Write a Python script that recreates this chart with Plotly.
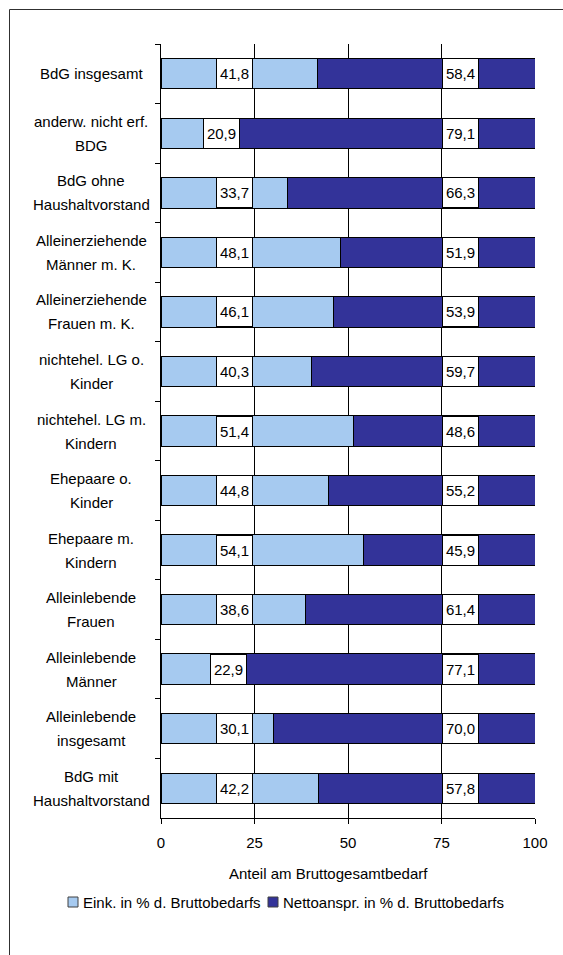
import plotly.graph_objects as go

# Haushaltstypen (top to bottom) and their shares of the gross total need
categories = [
    "BdG insgesamt",
    "anderw. nicht erf.\nBDG",
    "BdG ohne\nHaushaltvorstand",
    "Alleinerziehende\nMänner m. K.",
    "Alleinerziehende\nFrauen m. K.",
    "nichtehel. LG o.\nKinder",
    "nichtehel. LG m.\nKindern",
    "Ehepaare o.\nKinder",
    "Ehepaare m.\nKindern",
    "Alleinlebende\nFrauen",
    "Alleinlebende\nMänner",
    "Alleinlebende\ninsgesamt",
    "BdG mit\nHaushaltvorstand",
]
eink = [41.8, 20.9, 33.7, 48.1, 46.1, 40.3, 51.4, 44.8, 54.1, 38.6, 22.9, 30.1, 42.2]
netto = [58.4, 79.1, 66.3, 51.9, 53.9, 59.7, 48.6, 55.2, 45.9, 61.4, 77.1, 70.0, 57.8]
x_ticks = [0, 25, 50, 75, 100]

series_names = ["Eink. in % d. Bruttobedarfs", "Nettoanspr. in % d. Bruttobedarfs"]
LIGHT = "#A6CAF0"
DARK = "#333399"
FONT = "Arial, 'Liberation Sans', sans-serif"

# figure geometry (pixels)
FIG_W, FIG_H = 563, 955
M_L, M_R, M_T, M_B = 161, 28, 44, 137
PW = FIG_W - M_L - M_R
PH = FIG_H - M_T - M_B


def paper_x(px):
    return (px - M_L) / PW


def paper_y(py):
    return (FIG_H - M_B - py) / PH


keys = [c.replace("\n", " ") for c in categories]

fig = go.Figure()
fig.add_bar(
    y=keys, x=eink, orientation="h", name=series_names[0], showlegend=False,
    marker=dict(color=LIGHT, line=dict(color="black", width=1)),
)
fig.add_bar(
    y=keys, x=netto, orientation="h", name=series_names[1], showlegend=False,
    marker=dict(color=DARK, line=dict(color="black", width=1)),
)

annotations = []
shapes = []

# value boxes on the bars
box_half = 4.8  # half box width in axis units
for k, e, n in zip(keys, eink, netto):
    for xpos, val in ((min(19.7, e - box_half), e), (80.0, n)):
        annotations.append(dict(
            x=xpos, y=k, xref="x", yref="y",
            text=f"{val:.1f}".replace(".", ","),
            showarrow=False, font=dict(family=FONT, size=15, color="black"),
            bgcolor="white", bordercolor="black", borderwidth=1, borderpad=1,
            width=33, height=27, align="center", valign="middle",
        ))

# category labels, centred lines
for k, c in zip(keys, categories):
    lines = c.split("\n")
    nl = len(lines)
    for j, line in enumerate(lines):
        annotations.append(dict(
            x=paper_x(91), y=k, xref="paper", yref="y",
            text=line, showarrow=False, xanchor="center", yanchor="middle",
            yshift=(nl - 1) * 12 - j * 24,
            font=dict(family=FONT, size=15, color="black"),
        ))

# axis title
annotations.append(dict(
    x=paper_x(328), y=paper_y(873), xref="paper", yref="paper",
    text="Anteil am Bruttogesamtbedarf", showarrow=False,
    xanchor="center", yanchor="middle",
    font=dict(family=FONT, size=15, color="black"),
))

# legend: swatch + text per series
legend_y = 902
for name, color, sx in zip(series_names, [LIGHT, DARK], [68, 268]):
    shapes.append(dict(
        type="rect", xref="paper", yref="paper",
        x0=paper_x(sx), x1=paper_x(sx + 10),
        y0=paper_y(legend_y - 5), y1=paper_y(legend_y + 5),
        line=dict(color="#404040", width=1), fillcolor=color,
    ))
    annotations.append(dict(
        x=paper_x(sx + 13), y=paper_y(legend_y), xref="paper", yref="paper",
        text=name, showarrow=False, xanchor="left", yanchor="middle",
        font=dict(family=FONT, size=15, color="black"),
    ))

# outer chart frame
shapes.append(dict(
    type="rect", xref="paper", yref="paper",
    x0=paper_x(9.5), x1=paper_x(700), y0=paper_y(9.5), y1=paper_y(1200),
    line=dict(color="#303030", width=1), fillcolor="rgba(0,0,0,0)",
    layer="below",
))

fig.update_layout(
    width=FIG_W, height=FIG_H,
    margin=dict(l=M_L, r=M_R, t=M_T, b=M_B),
    paper_bgcolor="white", plot_bgcolor="white",
    barmode="stack", bargap=0.49,
    font=dict(family=FONT, size=15, color="black"),
    annotations=annotations,
    shapes=shapes,
    showlegend=False,
)

fig.update_xaxes(
    range=[0, 100], tickvals=x_ticks, ticktext=[str(t) for t in x_ticks],
    showgrid=True, gridcolor="black", gridwidth=1, zeroline=False,
    showline=True, linecolor="black", linewidth=1,
    ticks="outside", ticklen=5, tickcolor="black", ticklabelstandoff=6,
    tickfont=dict(family=FONT, size=15, color="black"),
)
fig.update_yaxes(
    type="category", categoryorder="array", categoryarray=keys,
    autorange="reversed", showgrid=False, zeroline=False,
    showline=True, linecolor="black", linewidth=1,
    ticks="outside", ticklen=5, tickcolor="black", tickson="boundaries",
    showticklabels=False,
)

fig.write_html("out.html")
